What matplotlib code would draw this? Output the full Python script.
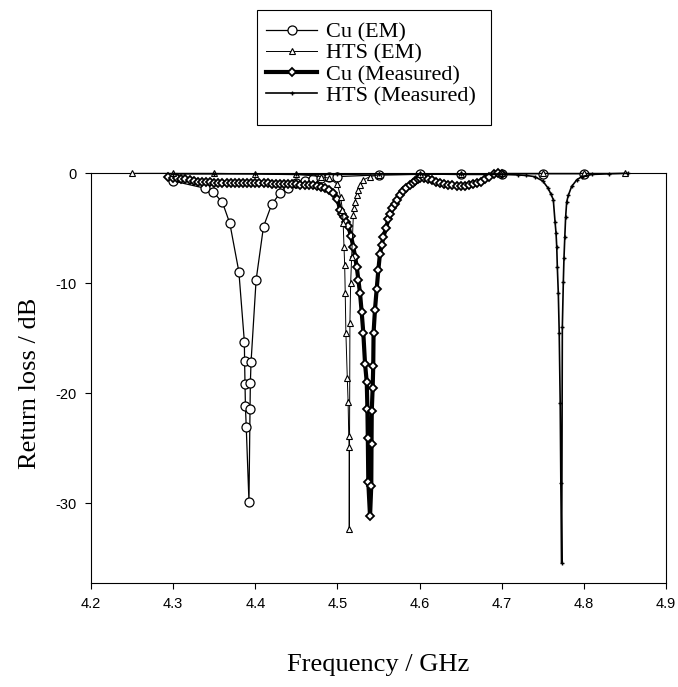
import matplotlib
matplotlib.use("Agg")
import matplotlib.pyplot as plt
from matplotlib.patches import Rectangle

# ---- data ----
cu_em_f = [4.30, 4.339, 4.349, 4.360, 4.369, 4.380, 4.3867, 4.3870, 4.3875, 4.3880,
           4.3890, 4.3923, 4.3936, 4.3940, 4.3948, 4.401, 4.410, 4.420, 4.430, 4.440,
           4.450, 4.460, 4.470, 4.480, 4.490, 4.500, 4.550, 4.600, 4.650, 4.700, 4.750, 4.800]
cu_em_db = [-0.7, -1.36, -1.73, -2.64, -4.55, -8.94, -15.3, -17.1, -19.2, -21.2,
            -23.1, -29.85, -21.4, -19.1, -17.2, -9.7, -4.85, -2.82, -1.82, -1.3,
            -0.9, -0.7, -0.55, -0.45, -0.35, -0.3, -0.15, -0.1, -0.08, -0.05, -0.05, -0.05]

hts_em_f = [4.25, 4.30, 4.35, 4.40, 4.45, 4.48, 4.49, 4.500, 4.504, 4.506, 4.507, 4.508,
            4.5088, 4.5095, 4.5103, 4.5120, 4.5130, 4.5138, 4.5142, 4.5144, 4.5152, 4.5161,
            4.5173, 4.5194, 4.5202, 4.5214, 4.5235, 4.5254, 4.5275, 4.5315, 4.5397,
            4.55, 4.60, 4.65, 4.70, 4.75, 4.80, 4.85]
hts_em_db = [0.0, 0.0, 0.0, -0.05, -0.1, -0.3, -0.45, -1.0, -2.2, -3.3, -4.55, -6.7,
             -8.3, -10.9, -14.5, -18.6, -20.8, -23.9, -24.9, -32.3, -13.6, -10.0,
             -7.6, -3.8, -3.2, -2.6, -2.0, -1.5, -1.06, -0.6, -0.3,
             -0.15, -0.1, -0.05, 0.0, 0.0, 0.0, 0.0]

cu_meas_f = [4.294, 4.300, 4.305, 4.310, 4.315, 4.320, 4.325, 4.330, 4.335, 4.340, 4.345,
             4.350, 4.355, 4.360, 4.365, 4.370, 4.375, 4.380, 4.385, 4.390, 4.395, 4.400,
             4.405, 4.410, 4.415, 4.420, 4.425, 4.430, 4.435, 4.440, 4.445, 4.450, 4.455,
             4.460, 4.465, 4.470, 4.475, 4.480, 4.485, 4.490, 4.495, 4.500, 4.5031, 4.506,
             4.508, 4.511, 4.5133, 4.5165, 4.5194, 4.5215, 4.5235, 4.5255, 4.5275, 4.5295,
             4.5315, 4.5336, 4.5357, 4.5365, 4.5370, 4.5376, 4.5397, 4.5412, 4.5415,
             4.5418, 4.5429, 4.5436, 4.5440, 4.5457, 4.5478, 4.5498, 4.5518, 4.5540,
             4.5559, 4.5590, 4.5620, 4.5645, 4.5670, 4.5695, 4.5722, 4.576, 4.580, 4.584,
             4.5884, 4.592, 4.595, 4.598, 4.6005, 4.605, 4.610, 4.615, 4.620, 4.625, 4.630,
             4.635, 4.640, 4.645, 4.650, 4.655, 4.660, 4.665, 4.670, 4.675, 4.680, 4.685,
             4.690, 4.695, 4.700]
cu_meas_db = [-0.35, -0.4, -0.45, -0.5, -0.55, -0.6, -0.68, -0.75, -0.78, -0.8, -0.82,
              -0.85, -0.88, -0.9, -0.9, -0.9, -0.9, -0.9, -0.9, -0.9, -0.9, -0.9,
              -0.9, -0.9, -0.92, -0.95, -0.95, -0.95, -0.97, -1.0, -1.0, -1.0, -1.02,
              -1.05, -1.08, -1.1, -1.15, -1.25, -1.35, -1.5, -1.75, -2.3, -3.3, -3.7,
              -4.0, -4.4, -4.8, -5.7, -6.7, -7.6, -8.5, -9.7, -10.9, -12.6,
              -14.5, -17.3, -19.0, -21.4, -24.1, -28.1, -31.2, -28.4, -24.6,
              -21.6, -19.5, -17.5, -14.5, -12.4, -10.5, -8.8, -7.3, -6.5,
              -5.8, -5.0, -4.2, -3.7, -3.2, -2.8, -2.4, -2.0, -1.6, -1.3,
              -1.06, -0.85, -0.7, -0.55, -0.45, -0.45, -0.5, -0.6, -0.75, -0.85, -0.95,
              -1.05, -1.1, -1.12, -1.15, -1.15, -1.1, -1.0, -0.9, -0.75, -0.5, -0.3,
              -0.1, 0.0, -0.1]

hts_meas_f = [4.30, 4.35, 4.40, 4.45, 4.50, 4.55, 4.60, 4.65, 4.70, 4.72, 4.73, 4.74,
              4.75, 4.756, 4.760, 4.7628, 4.7649, 4.7661, 4.7670, 4.7677, 4.7689, 4.7700,
              4.7712, 4.7720, 4.7730, 4.7738, 4.7750, 4.7758, 4.7768, 4.7778, 4.7791,
              4.7811, 4.7851, 4.7913, 4.7974, 4.81, 4.83, 4.854]
hts_meas_db = [-0.05, -0.05, -0.05, -0.1, -0.1, -0.05, -0.05, -0.1, -0.1, -0.15, -0.2, -0.3,
               -0.7, -1.3, -1.9, -2.4, -4.4, -5.4, -6.7, -8.5, -10.9, -14.5,
               -20.9, -28.2, -35.45, -14.0, -9.9, -7.7, -5.8, -4.0, -2.6,
               -2.0, -1.2, -0.6, -0.3, -0.1, -0.05, 0.0]

x_ticks = [4.2, 4.3, 4.4, 4.5, 4.6, 4.7, 4.8, 4.9]
y_ticks = [0, -10, -20, -30]

# ---- figure ----
fig = plt.figure(figsize=(6.78, 6.87), dpi=100)
ax = fig.add_axes([91 / 678, 1 - 583 / 687, 575 / 678, (583 - 173.3) / 687])

serif = ["Liberation Serif", "DejaVu Serif"]
sans = ["Liberation Sans", "DejaVu Sans"]

l1, = ax.plot(cu_em_f, cu_em_db, color="black", lw=0.9, marker="o", ms=6.5,
              mfc="white", mec="black", mew=0.9, clip_on=False, zorder=2,
              label="Cu (EM)")
l2, = ax.plot(hts_em_f, hts_em_db, color="black", lw=0.7, marker="^", ms=4.5,
              mfc="white", mec="black", mew=0.8, clip_on=False, zorder=4,
              label="HTS (EM)")
l3, = ax.plot(cu_meas_f, cu_meas_db, color="black", lw=3.0, marker="D", ms=4.5,
              mfc="white", mec="black", mew=1.3, clip_on=False, zorder=3,
              label="Cu (Measured)")
l4, = ax.plot(hts_meas_f, hts_meas_db, color="black", lw=1.2, marker="+", ms=3.5,
              mec="black", mew=1.0, clip_on=False, zorder=5,
              label="HTS (Measured)")

ax.set_xlim(4.2, 4.9)
ax.set_ylim(-37.25, 0)
ax.set_xticks(x_ticks)
ax.set_xticklabels([f"{v:.1f}" for v in x_ticks], fontfamily=sans, fontsize=10.5)
ax.set_yticks(y_ticks)
ax.set_yticklabels([f"{v}" for v in y_ticks], fontfamily=sans, fontsize=10.5)
ax.tick_params(direction="out", length=4, width=0.8, color="black", pad=6)

for s in ax.spines.values():
    s.set_linewidth(0.8)
    s.set_color("black")

fig.text(378 / 678, 1 - 665 / 687, "Frequency / GHz", ha="center", va="center",
         fontfamily=serif, fontsize=19)
fig.text(30 / 678, 1 - 383 / 687, "Return loss / dB", ha="center", va="center",
         rotation=90, fontfamily=serif, fontsize=19)

leg = fig.legend(handles=[l1, l2, l3, l4], loc="upper left",
                 bbox_to_anchor=(266 / 678, 1 - 22 / 687), frameon=False,
                 prop={"family": serif, "size": 16}, handlelength=2.3,
                 handletextpad=0.4, labelspacing=0.03, borderpad=0.0,
                 numpoints=1, borderaxespad=0)
fig.patches.append(Rectangle((257 / 678, 1 - 125 / 687), 234 / 678, 115 / 687,
                             transform=fig.transFigure, fill=False,
                             edgecolor="black", linewidth=0.8))

fig.savefig("out.png", dpi=100)
